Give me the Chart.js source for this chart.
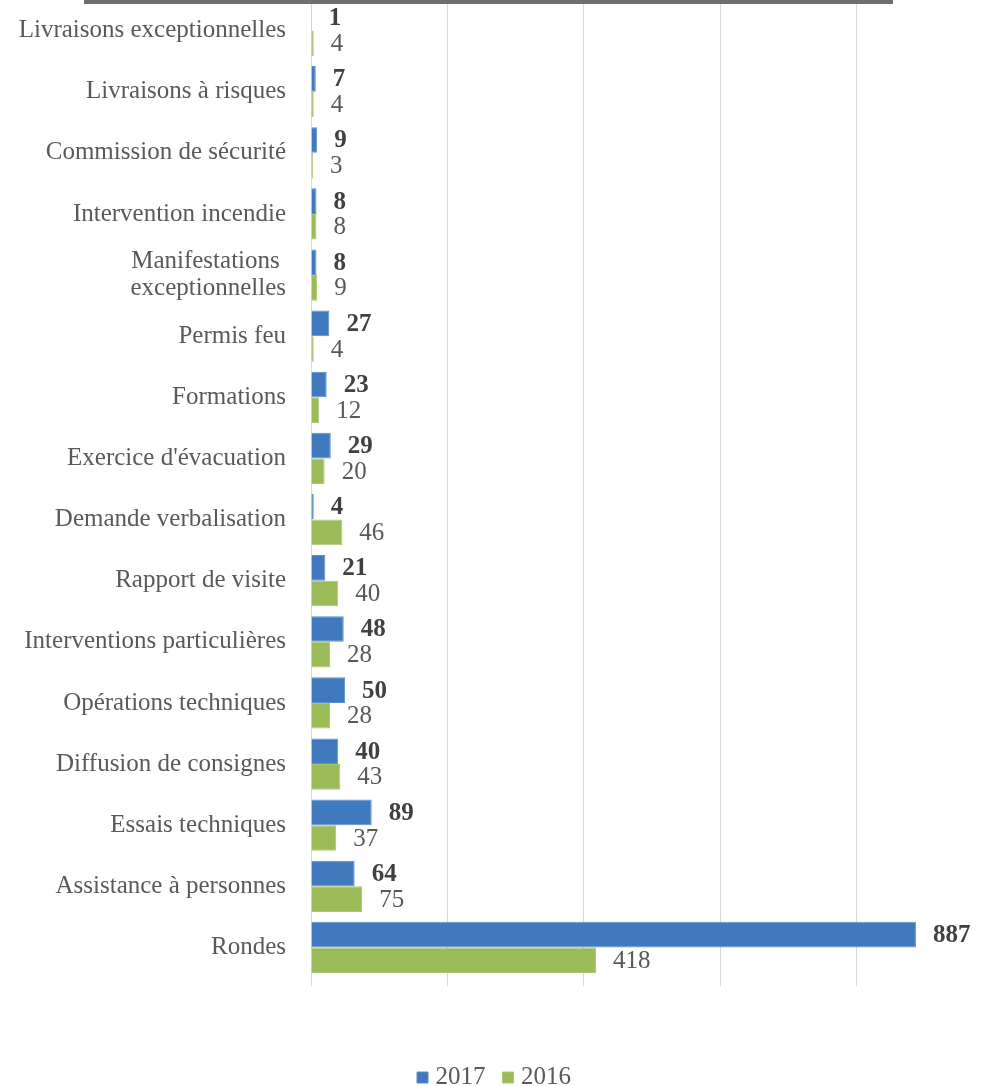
<!DOCTYPE html>
<html>
<head>
<meta charset="utf-8">
<script src="https://cdn.jsdelivr.net/npm/chart.js@4.4.1/dist/chart.umd.min.js"></script>
<style>
  html, body { margin: 0; padding: 0; background: #fff; overflow: hidden; }
  #wrap { width: 1010px; height: 1100px; }
</style>
</head>
<body>
<div id="wrap"><canvas id="chart"></canvas></div>
<script>
// catégories (de haut en bas)
const categories = [
  'Livraisons exceptionnelles',
  'Livraisons à risques',
  'Commission de sécurité',
  'Intervention incendie',
  ['Manifestations ', 'exceptionnelles'],
  'Permis feu',
  'Formations',
  "Exercice d'évacuation",
  'Demande verbalisation',
  'Rapport de visite',
  'Interventions particulières',
  'Opérations techniques',
  'Diffusion de consignes',
  'Essais techniques',
  'Assistance à personnes',
  'Rondes'
];

const values2017 = [1, 7, 9, 8, 8, 27, 23, 29, 4, 21, 48, 50, 40, 89, 64, 887];
const values2016 = [4, 4, 3, 8, 9, 4, 12, 20, 46, 40, 28, 28, 43, 37, 75, 418];

const serif = "'Liberation Serif', 'DejaVu Serif', serif";

// valeurs écrites à droite des barres
const valueLabels = {
  id: 'valueLabels',
  afterDatasetsDraw(chart) {
    const ctx = chart.ctx;
    ctx.save();
    ctx.textAlign = 'left';
    ctx.textBaseline = 'middle';
    chart.data.datasets.forEach((ds, i) => {
      const meta = chart.getDatasetMeta(i);
      ctx.font = (i === 0 ? 'bold ' : '') + '25px ' + serif;
      ctx.fillStyle = i === 0 ? '#404040' : '#595959';
      meta.data.forEach((bar, j) => {
        ctx.fillText(String(ds.data[j]), bar.x + 17, bar.y + 1);
      });
    });
    ctx.restore();
  }
};

// bande grise du titre coupé en haut
const titleBand = {
  id: 'titleBand',
  afterDraw(chart) {
    const ctx = chart.ctx;
    ctx.save();
    ctx.fillStyle = '#6f6f6f';
    ctx.fillRect(84, 0, 809, 4);
    ctx.restore();
  }
};

new Chart(document.getElementById('chart'), {
  type: 'bar',
  data: {
    labels: categories,
    datasets: [
      {
        label: '2017',
        data: values2017,
        backgroundColor: '#4079bd',
        borderColor: '#5a8fcc',
        borderWidth: 1,
        categoryPercentage: 0.84,
        barPercentage: 1.0
      },
      {
        label: '2016',
        data: values2016,
        backgroundColor: '#9bbb59',
        borderColor: '#aac870',
        borderWidth: 1,
        categoryPercentage: 0.84,
        barPercentage: 1.0
      }
    ]
  },
  options: {
    indexAxis: 'y',
    responsive: true,
    maintainAspectRatio: false,
    animation: false,
    layout: { padding: { top: 0, bottom: 0, left: 0, right: 17 } },
    plugins: {
      tooltip: { enabled: false },
      legend: {
        position: 'bottom',
        labels: {
          usePointStyle: true,
          pointStyle: 'rect',
          boxWidth: 1,
          boxHeight: 11,
          padding: 22,
          color: '#595959',
          font: { family: serif, size: 25 }
        }
      }
    },
    scales: {
      x: {
        min: 0,
        max: 1000,
        ticks: { display: false, stepSize: 200 },
        grid: { color: '#d9d9d9', lineWidth: 1, drawTicks: true, tickLength: 8 },
        border: { display: false },
        afterFit(scale) { scale.height = 65; }
      },
      y: {
        ticks: {
          color: '#595959',
          padding: 25,
          font: { family: serif, size: 25, lineHeight: 1.1 }
        },
        grid: { display: false, drawTicks: false },
        border: { display: true, color: '#d9d9d9' },
        afterFit(scale) {
          scale.width = 311;
          scale.paddingTop = 0;
          scale.paddingBottom = 0;
        }
      }
    }
  },
  plugins: [valueLabels, titleBand]
});
</script>
</body>
</html>
